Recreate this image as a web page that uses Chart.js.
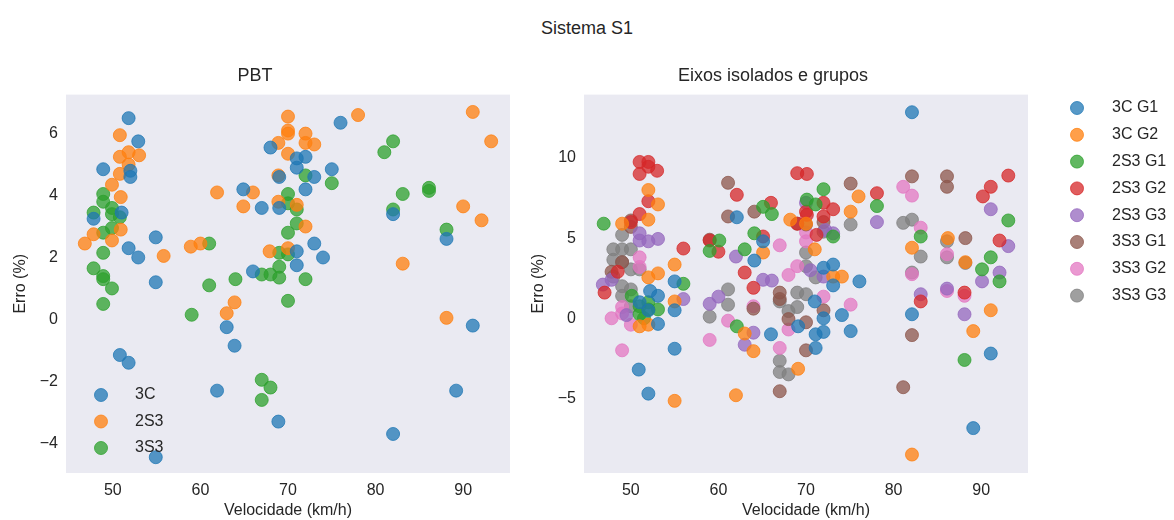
<!DOCTYPE html>
<html>
<head>
<meta charset="utf-8">
<script src="https://cdn.jsdelivr.net/npm/chart.js@4.4.1/dist/chart.umd.min.js"></script>
<style>
  html, body { margin: 0; padding: 0; background: #fff; }
  body { width: 1174px; height: 520px; position: relative; overflow: hidden;
         font-family: "Liberation Sans", Arial, sans-serif; color: #262626; }
  #suptitle { position: absolute; left: 0; width: 1174px; top: 18px; text-align: center; font-size: 18px; }
  canvas { position: absolute; }
  #pbt { left: 0; top: 65px; }
  #eixos { left: 518px; top: 65px; }
</style>
</head>
<body>
<div id="suptitle">Sistema S1</div>
<canvas id="pbt" width="520" height="455"></canvas>
<canvas id="eixos" width="656" height="455"></canvas>
<script>
// values: [velocidade km/h, erro %]
var xTicks = [50, 60, 70, 80, 90];
var yTicksPBT = [-4, -2, 0, 2, 4, 6];
var yTicksEixos = [-5, 0, 5, 10];

var pbtLabels = ['3C', '2S3', '3S3'];
var pbt3C = [[51.8,6.5],[52.9,5.75],[48.9,4.85],[52,4.6],[52,4.8],[47.8,3.25],[51,3.45],[54.9,2.65],[51.8,2.3],[52.9,2.0],
  [54.9,1.2],[64.9,4.2],[67,3.6],[69,3.6],[68,5.55],[71,5.2],[72,5.25],[71,4.9],[66,1.55],[71,2.2],[71,1.75],[76,6.35],
  [75,4.85],[73,4.6],[72,4.2],[69,4.6],[82,3.4],[88.1,2.6],[73,2.45],[74,2.0],[63,-0.25],[63.9,-0.85],[50.8,-1.15],
  [51.8,-1.4],[61.9,-2.3],[68.9,-3.3],[54.9,-4.45],[91.1,-0.2],[89.2,-2.3],[82,-3.7]];
var pbt2S3 = [[50.8,5.95],[51.8,5.4],[50.8,5.25],[53,5.3],[51.8,5.0],[50.8,4.7],[49.9,4.35],[50.9,3.95],[47.8,2.75],[46.8,2.45],
  [49.9,2.55],[50.9,2.9],[55.8,2.05],[58.9,2.35],[60,2.45],[61.9,4.1],[66,4.1],[64.9,3.65],[67.9,2.2],[70,2.3],[68.9,4.65],
  [70,6.55],[70,6.1],[70,6.0],[68.9,5.7],[70,5.35],[72,6.0],[72,5.7],[68.9,3.8],[71,3.7],[72,3.0],[78,6.6],[91.1,6.7],
  [93.2,5.75],[73,5.65],[90,3.65],[92.1,3.2],[83.1,1.8],[63.9,0.55],[63,0.2],[88.1,0.05]];
var pbt3S3 = [[48.9,4.05],[48.9,3.8],[49.9,3.6],[50.8,3.3],[49.9,2.95],[48.9,2.8],[47.8,3.45],[49.9,3.4],[48.9,2.15],[47.8,1.65],
  [48.9,1.4],[48.9,1.3],[49.9,1.0],[61,2.45],[61,1.1],[64,1.3],[67,1.45],[68,1.45],[69,1.7],[69,1.35],[70,4.05],[70,3.75],
  [71,3.55],[71,3.1],[70,2.8],[69,2.15],[70,2.1],[72,4.65],[82,5.75],[81,5.4],[75,4.4],[86.1,4.25],[86.1,4.15],[83.1,4.05],
  [82,3.55],[88.1,2.9],[72,1.3],[48.9,0.5],[59,0.15],[70,0.6],[67,-1.95],[68,-2.2],[67,-2.6]];

var eixosLabels = ['3C G1', '3C G2', '2S3 G1', '2S3 G2', '2S3 G3', '3S3 G1', '3S3 G2', '3S3 G3'];
var c3G1 = [[82.1,12.85],[76.1,2.3],[74.1,0.2],[75.1,-0.8],[82.1,0.25],[91.1,-2.2],[89.1,-6.85],[73.1,2.05],[72,0],[72,-0.85],
  [71.1,-1.0],[71.1,-1.85],[69.1,-0.5],[71,1.05],[73.1,3.35],[72,3.15],[50.9,-3.2],[52,-4.7],[55,-1.9],[55,0.5],[53.1,-0.35],
  [53.1,1.4],[52.2,1.7],[55,2.3],[66,-1.0],[62.1,6.3],[64.1,3.6],[65.1,4.8],[51,1.0],[52,0.5]];
var c3G2 = [[52,8.0],[53.1,7.1],[52,6.15],[49,5.9],[55,3.35],[53.1,2.8],[52,2.55],[55,1.05],[51,-0.5],[52,-0.4],[55,-5.15],
  [62,-4.8],[64,-2.05],[63,-0.95],[65.1,4.1],[68.2,6.15],[76,7.6],[75.1,6.65],[82.1,4.4],[86.2,5.0],[88.2,3.5],[74.1,2.6],
  [73.1,2.6],[91.1,0.5],[89.1,-0.8],[82.1,-8.5],[69.1,-3.15],[70,5.9],[71,4.3]];
var s2G1 = [[46.9,5.9],[64.1,5.3],[65.1,6.95],[66.1,6.5],[63,4.3],[60.1,4.85],[59,4.2],[56,2.15],[72,8.05],[70.1,7.4],[71.1,7.1],
  [78.1,7.0],[83.1,5.1],[93.1,6.1],[91.1,3.8],[90.1,3.05],[92.1,2.3],[88.1,-2.6],[62.1,-0.5],[51,0.75],[52,1.0],[52,0.55],
  [51,0.25],[53.1,0.55],[50.1,1.4],[73.1,5.1],[51.5,0.0]];
var s2G2 = [[51,9.75],[52,9.75],[51,9.0],[52,9.45],[53,9.2],[52,7.3],[51,6.5],[50,6.0],[56,4.35],[59,4.85],[60,4.15],[62.1,7.7],
  [66,7.2],[65.1,5.1],[63,2.85],[69,9.05],[70.1,9.0],[72,7.2],[73.1,6.8],[78.1,7.8],[90.2,7.6],[91.1,8.2],[93.1,8.9],[92.1,4.85],
  [70.1,6.45],[72,6.35],[69,5.9],[70,6.65],[71.2,5.2],[83.1,1.05],[88.1,1.6],[47,1.6],[64,1.9],[48.5,2.9]];
var s2G3 = [[53.1,4.95],[52,4.8],[51,4.85],[51,5.3],[62,3.85],[65.1,2.4],[66.1,2.35],[46.8,2.1],[47.8,2.4],[70,7.2],[78.1,6.0],
  [91.1,6.8],[93.1,4.5],[92.1,2.85],[90.1,2.3],[72.2,5.5],[73.1,5.3],[88.1,0.25],[86.1,1.85],[83.1,1.5],[59,0.9],[60,1.35],
  [56,1.2],[63,-1.65],[64,-0.9],[72,2.6],[70.5,3.0],[49.5,0.2]];
var s3G1 = [[61.1,8.45],[61.1,6.35],[64.1,6.65],[50,6.1],[50,5.7],[59,4.9],[75.1,8.4],[82.1,8.85],[86.1,8.85],[86.1,8.2],[88.2,5.0],
  [69,5.9],[70,5.85],[72,6.0],[82.1,-1.05],[81.1,-4.3],[70,-2.0],[70,-0.25],[72,0.5],[67,-4.55],[64,0.6],[67,1.6],[67,1.2],
  [68,-0.05],[47.8,2.9],[49,3.5]];
var s3G2 = [[67,4.55],[51,3.8],[51,3.2],[81.1,8.2],[82.1,7.65],[83.1,5.65],[86.1,4.0],[82.1,2.75],[70,5.35],[70,4.8],[69,3.25],
  [75.1,0.85],[88.1,1.4],[86.1,1.7],[49,-2.0],[59,-1.35],[61.1,-0.15],[67,-1.85],[68,-0.7],[47.8,0],[49,0.3],[49,0.7],
  [50,-0.4],[64,0.75],[68,2.7],[72,1.35]];
var s3G3 = [[75.1,5.85],[81.1,5.95],[82.1,6.15],[83.1,3.85],[86.1,4.8],[86.1,3.8],[88.2,3.45],[82.1,2.85],[72,5.4],[59,0.1],
  [61.1,0.85],[61.1,1.8],[67,-2.65],[67,-3.35],[68,-3.5],[67,1.05],[68,0.45],[69,1.6],[70,1.5],[69,0.7],[70,4.1],[70,3.25],
  [71.1,2.55],[49,5.2],[48,4.3],[49,4.3],[50,4.3],[48,3.65],[49,3.5],[50,3.05],[48,2.6],[49,2.0],[50,1.8],[49,1.4],[50,0.75],[51,3.05]];

var palette = ['#1f77b4', '#ff7f0e', '#2ca02c', '#d62728', '#9467bd', '#8c564b', '#e377c2', '#7f7f7f'];
var FONT = '"Liberation Sans", Arial, sans-serif';
var TXT = '#262626';

function rgba(hex, a) {
  var n = parseInt(hex.slice(1), 16);
  return 'rgba(' + (n >> 16) + ',' + ((n >> 8) & 255) + ',' + (n & 255) + ',' + a + ')';
}

function makeSet(label, pts, i) {
  return {
    label: label,
    data: pts.map(function (p) { return { x: p[0], y: p[1] }; }),
    backgroundColor: rgba(palette[i], 0.75),
    borderColor: rgba(palette[i], 0.75),
    borderWidth: 1,
    pointRadius: 6.5
  };
}

// grey plot background, seaborn "dark" style
var areaBg = {
  id: 'areaBg',
  beforeDraw: function (chart) {
    var a = chart.chartArea, ctx = chart.ctx;
    ctx.save();
    ctx.fillStyle = '#eaeaf2';
    ctx.fillRect(a.left, a.top, a.right - a.left, a.bottom - a.top);
    ctx.restore();
  }
};

// legend without frame, placed like matplotlib does it
var dotLegend = {
  id: 'dotLegend',
  afterDraw: function (chart, args, o) {
    var ctx = chart.ctx;
    ctx.save();
    ctx.font = '16px ' + FONT;
    ctx.textBaseline = 'middle';
    chart.data.datasets.forEach(function (ds, i) {
      var y = o.y + i * o.step;
      ctx.beginPath();
      ctx.arc(o.x, y, 6.5, 0, Math.PI * 2);
      ctx.fillStyle = ds.backgroundColor;
      ctx.fill();
      ctx.strokeStyle = ds.borderColor;
      ctx.lineWidth = 1;
      ctx.stroke();
      ctx.fillStyle = TXT;
      ctx.fillText(ds.label, o.x + o.gap, y);
    });
    ctx.restore();
  }
};

function fixedTicks(list) {
  return function (scale) { scale.ticks = list.map(function (v) { return { value: v }; }); };
}

function options(title, ymin, ymax, yTicks, padRight, legend) {
  return {
    responsive: false,
    animation: false,
    events: [],
    layout: { padding: { top: 0, right: padRight, bottom: 0, left: 0 } },
    plugins: {
      legend: { display: false },
      tooltip: { enabled: false },
      title: { display: true, text: title, color: TXT, font: { family: FONT, size: 18, weight: 'normal' }, padding: { top: 0, bottom: 8 } },
      dotLegend: legend
    },
    scales: {
      x: {
        type: 'linear', min: 44.65, max: 95.35,
        afterBuildTicks: fixedTicks(xTicks),
        afterFit: function (s) { s.height = 47; },
        grid: { display: false, drawTicks: false },
        border: { display: false },
        ticks: { color: TXT, font: { family: FONT, size: 16 }, padding: 8 },
        title: { display: true, text: 'Velocidade (km/h)', color: TXT, font: { family: FONT, size: 16 }, padding: { top: 0, bottom: 0 } }
      },
      y: {
        min: ymin, max: ymax,
        afterBuildTicks: fixedTicks(yTicks),
        afterFit: function (s) { s.width = 66; },
        grid: { display: false, drawTicks: false },
        border: { display: false },
        ticks: {
          color: TXT, font: { family: FONT, size: 16 }, padding: 8,
          callback: function (v) { return String(v).replace('-', '\u2212'); }
        },
        title: { display: true, text: 'Erro (%)', color: TXT, font: { family: FONT, size: 16 }, padding: { top: 11, bottom: 4 } }
      }
    }
  };
}

new Chart(document.getElementById('pbt').getContext('2d'), {
  type: 'scatter',
  data: { datasets: [pbt3C, pbt2S3, pbt3S3].map(function (d, i) { return makeSet(pbtLabels[i], d, i); }) },
  options: options('PBT', -4.96, 7.26, yTicksPBT, 10, { x: 101, y: 330, step: 26.5, gap: 34 }),
  plugins: [areaBg, dotLegend]
});

new Chart(document.getElementById('eixos').getContext('2d'), {
  type: 'scatter',
  data: { datasets: [c3G1, c3G2, s2G1, s2G2, s2G3, s3G1, s3G2, s3G3].map(function (d, i) { return makeSet(eixosLabels[i], d, i); }) },
  options: options('Eixos isolados e grupos', -9.65, 13.95, yTicksEixos, 146, { x: 559, y: 43, step: 26.8, gap: 35 }),
  plugins: [areaBg, dotLegend]
});
</script>
</body>
</html>
